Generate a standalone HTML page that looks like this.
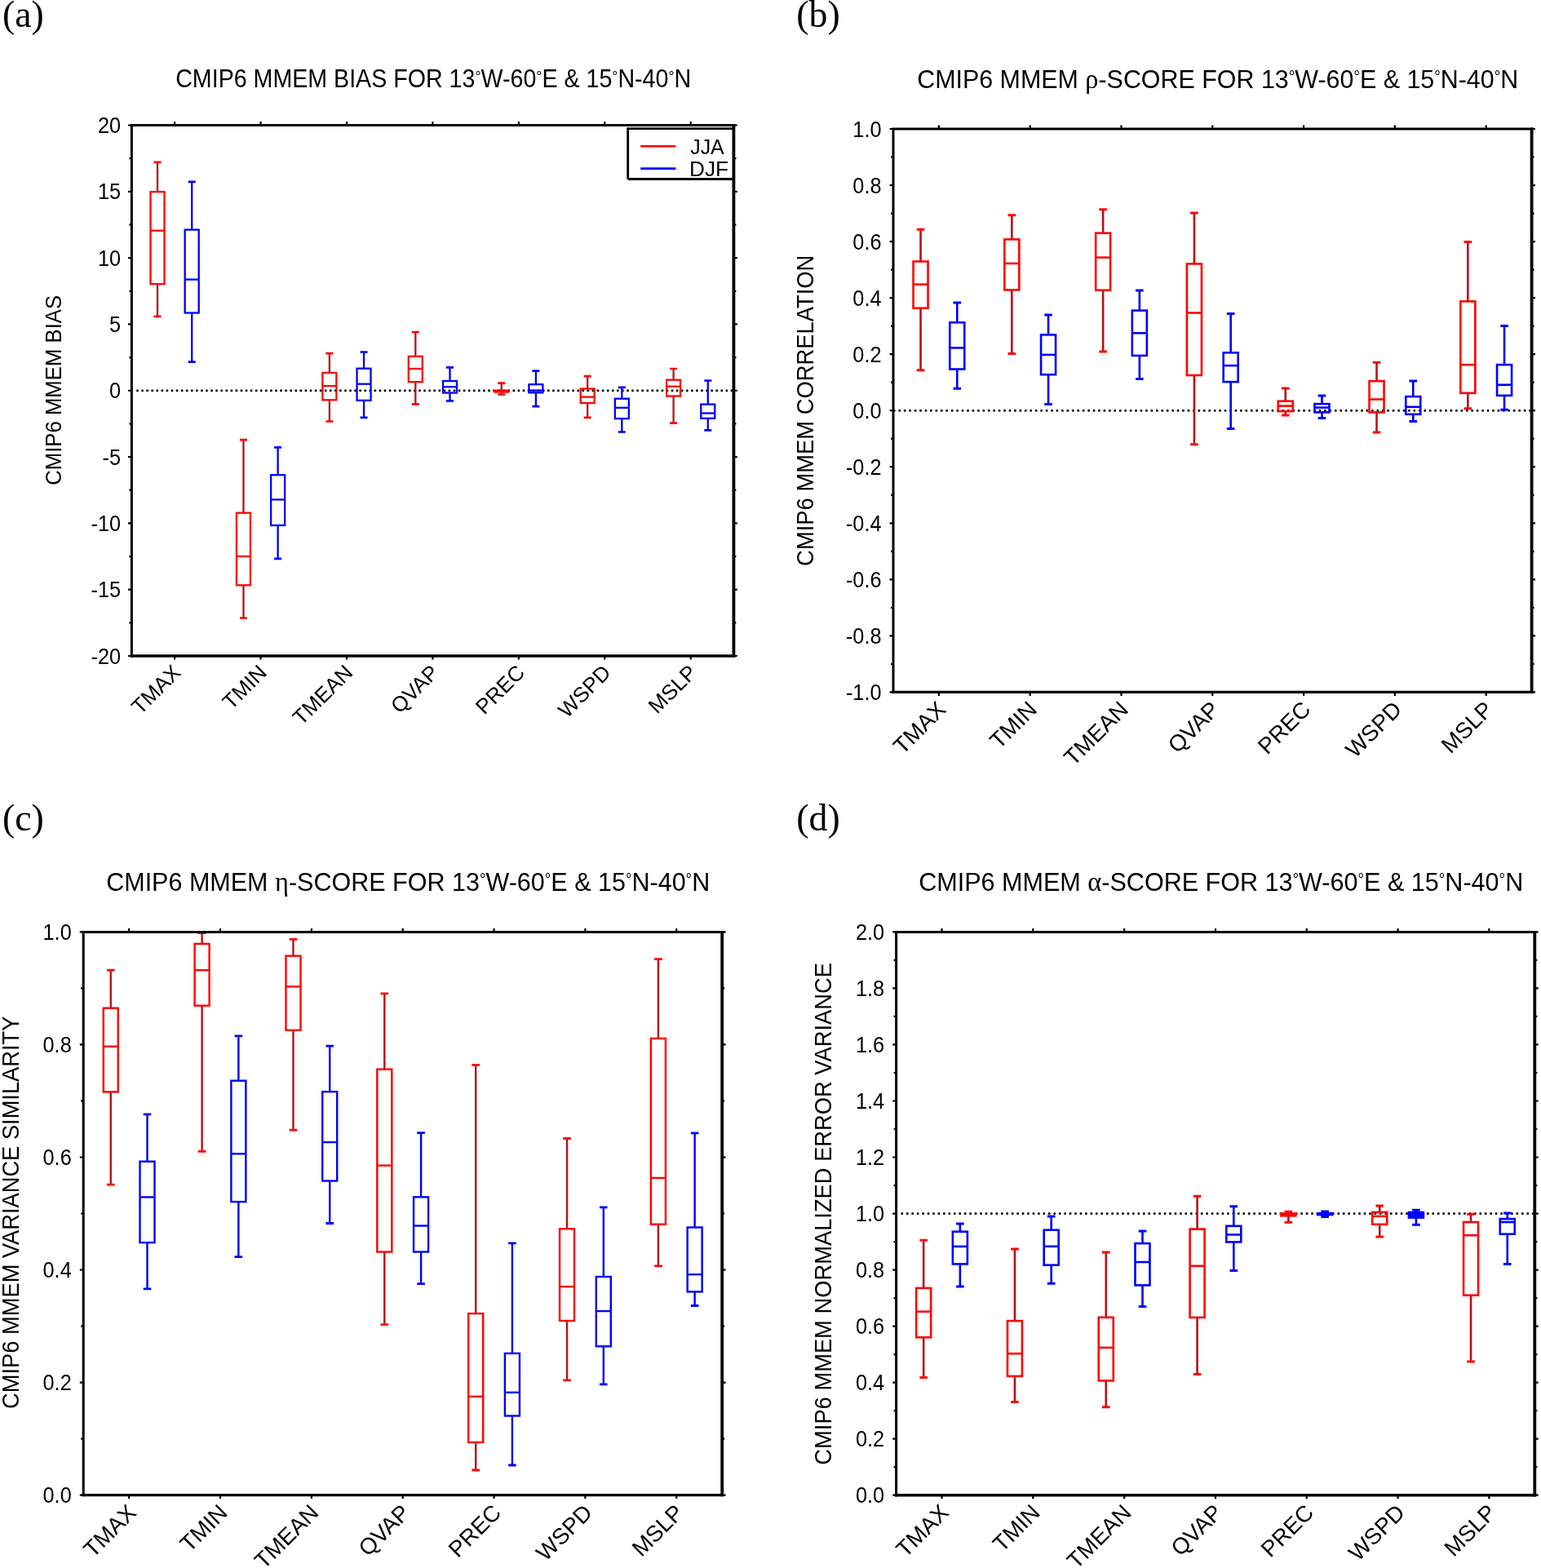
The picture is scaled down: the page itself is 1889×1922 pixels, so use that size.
<!DOCTYPE html>
<html><head><meta charset="utf-8"><title>CMIP6 MMEM scores</title>
<style>html,body{margin:0;padding:0;background:#fff;} svg{display:block;}</style></head>
<body><svg width="1889" height="1922" viewBox="0 0 1889 1922">
<rect width="1889" height="1922" fill="#fff"/>
<g id="panel-a"><line x1="168.5" y1="478.75" x2="899.4" y2="478.75" stroke="#000" stroke-width="3" stroke-linecap="round" stroke-dasharray="0 6.07"/>
<path d="M193.03 198.8V235.1M193.03 348.1V387.8" stroke="#b5121b" stroke-width="2.3" fill="none"/>
<path d="M188.53 198.8H197.53M188.53 387.8H197.53" stroke="#ff0000" stroke-width="2.7" fill="none"/>
<rect x="184.53" y="235.1" width="17" height="113" stroke="#ff0000" stroke-width="2.3" fill="none"/>
<path d="M184.53 282.7H201.53" stroke="#ff0000" stroke-width="2.3" fill="none"/>
<path d="M235.2 222.9V281.6M235.2 383.5V443.6" stroke="#0000f0" stroke-width="2.3" fill="none"/>
<path d="M230.7 222.9H239.7M230.7 443.6H239.7" stroke="#0000ff" stroke-width="2.7" fill="none"/>
<rect x="226.7" y="281.6" width="17" height="101.9" stroke="#0000ff" stroke-width="2.3" fill="none"/>
<path d="M226.7 342.6H243.7" stroke="#0000ff" stroke-width="2.3" fill="none"/>
<path d="M298.46 539.1V628.7M298.46 717.3V757.5" stroke="#b5121b" stroke-width="2.3" fill="none"/>
<path d="M293.96 539.1H302.96M293.96 757.5H302.96" stroke="#ff0000" stroke-width="2.7" fill="none"/>
<rect x="289.96" y="628.7" width="17" height="88.6" stroke="#ff0000" stroke-width="2.3" fill="none"/>
<path d="M289.96 682H306.96" stroke="#ff0000" stroke-width="2.3" fill="none"/>
<path d="M340.63 548.4V582.2M340.63 643.9V684.8" stroke="#0000f0" stroke-width="2.3" fill="none"/>
<path d="M336.13 548.4H345.13M336.13 684.8H345.13" stroke="#0000ff" stroke-width="2.7" fill="none"/>
<rect x="332.13" y="582.2" width="17" height="61.7" stroke="#0000ff" stroke-width="2.3" fill="none"/>
<path d="M332.13 612.4H349.13" stroke="#0000ff" stroke-width="2.3" fill="none"/>
<path d="M403.89 433.1V456.9M403.89 490.3V516.5" stroke="#b5121b" stroke-width="2.3" fill="none"/>
<path d="M399.39 433.1H408.39M399.39 516.5H408.39" stroke="#ff0000" stroke-width="2.7" fill="none"/>
<rect x="395.39" y="456.9" width="17" height="33.4" stroke="#ff0000" stroke-width="2.3" fill="none"/>
<path d="M395.39 473.1H412.39" stroke="#ff0000" stroke-width="2.3" fill="none"/>
<path d="M446.06 431.5V451.7M446.06 490.8V511.9" stroke="#0000f0" stroke-width="2.3" fill="none"/>
<path d="M441.56 431.5H450.56M441.56 511.9H450.56" stroke="#0000ff" stroke-width="2.7" fill="none"/>
<rect x="437.56" y="451.7" width="17" height="39.1" stroke="#0000ff" stroke-width="2.3" fill="none"/>
<path d="M437.56 470.7H454.56" stroke="#0000ff" stroke-width="2.3" fill="none"/>
<path d="M509.31 407V436.8M509.31 468.1V495.4" stroke="#b5121b" stroke-width="2.3" fill="none"/>
<path d="M504.81 407H513.81M504.81 495.4H513.81" stroke="#ff0000" stroke-width="2.7" fill="none"/>
<rect x="500.81" y="436.8" width="17" height="31.3" stroke="#ff0000" stroke-width="2.3" fill="none"/>
<path d="M500.81 452H517.81" stroke="#ff0000" stroke-width="2.3" fill="none"/>
<path d="M551.49 450.4V467M551.49 481.5V491.3" stroke="#0000f0" stroke-width="2.3" fill="none"/>
<path d="M546.99 450.4H555.99M546.99 491.3H555.99" stroke="#0000ff" stroke-width="2.7" fill="none"/>
<rect x="542.99" y="467" width="17" height="14.5" stroke="#0000ff" stroke-width="2.3" fill="none"/>
<path d="M542.99 474.2H559.99" stroke="#0000ff" stroke-width="2.3" fill="none"/>
<path d="M614.74 469.6V478.6M614.74 480.5V483.5" stroke="#b5121b" stroke-width="2.3" fill="none"/>
<path d="M610.24 469.6H619.24M610.24 483.5H619.24" stroke="#ff0000" stroke-width="2.7" fill="none"/>
<rect x="606.24" y="478.6" width="17" height="1.9" stroke="#ff0000" stroke-width="2.3" fill="none"/>
<path d="M606.24 479.5H623.24" stroke="#ff0000" stroke-width="2.3" fill="none"/>
<path d="M656.91 454.6V471.2M656.91 481.3V498.2" stroke="#0000f0" stroke-width="2.3" fill="none"/>
<path d="M652.41 454.6H661.41M652.41 498.2H661.41" stroke="#0000ff" stroke-width="2.7" fill="none"/>
<rect x="648.41" y="471.2" width="17" height="10.1" stroke="#0000ff" stroke-width="2.3" fill="none"/>
<path d="M648.41 478.6H665.41" stroke="#0000ff" stroke-width="2.3" fill="none"/>
<path d="M720.17 461.2V476.5M720.17 494V511.8" stroke="#b5121b" stroke-width="2.3" fill="none"/>
<path d="M715.67 461.2H724.67M715.67 511.8H724.67" stroke="#ff0000" stroke-width="2.7" fill="none"/>
<rect x="711.67" y="476.5" width="17" height="17.5" stroke="#ff0000" stroke-width="2.3" fill="none"/>
<path d="M711.67 486.6H728.67" stroke="#ff0000" stroke-width="2.3" fill="none"/>
<path d="M762.34 474.9V488.7M762.34 513.1V529.5" stroke="#0000f0" stroke-width="2.3" fill="none"/>
<path d="M757.84 474.9H766.84M757.84 529.5H766.84" stroke="#0000ff" stroke-width="2.7" fill="none"/>
<rect x="753.84" y="488.7" width="17" height="24.4" stroke="#0000ff" stroke-width="2.3" fill="none"/>
<path d="M753.84 499.8H770.84" stroke="#0000ff" stroke-width="2.3" fill="none"/>
<path d="M825.6 452V465.7M825.6 485.5V518.6" stroke="#b5121b" stroke-width="2.3" fill="none"/>
<path d="M821.1 452H830.1M821.1 518.6H830.1" stroke="#ff0000" stroke-width="2.7" fill="none"/>
<rect x="817.1" y="465.7" width="17" height="19.8" stroke="#ff0000" stroke-width="2.3" fill="none"/>
<path d="M817.1 473.7H834.1" stroke="#ff0000" stroke-width="2.3" fill="none"/>
<path d="M867.77 466.5V495.6M867.77 512.8V527.3" stroke="#0000f0" stroke-width="2.3" fill="none"/>
<path d="M863.27 466.5H872.27M863.27 527.3H872.27" stroke="#0000ff" stroke-width="2.7" fill="none"/>
<rect x="859.27" y="495.6" width="17" height="17.2" stroke="#0000ff" stroke-width="2.3" fill="none"/>
<path d="M859.27 506.5H876.27" stroke="#0000ff" stroke-width="2.3" fill="none"/>
<path d="M161.4 805.7V152M159.9 153.5H901.3" fill="none" stroke="#000" stroke-width="3"/>
<path d="M899.4 152V805.7" fill="none" stroke="#000" stroke-width="3.8"/>
<path d="M159.9 804H901.3" fill="none" stroke="#000" stroke-width="3.4"/>
<path d="M157 804H161.4M899.4 804H903.8M158.4 763.34H161.4M899.4 763.34H902.4M157 722.69H161.4M899.4 722.69H903.8M158.4 682.03H161.4M899.4 682.03H902.4M157 641.38H161.4M899.4 641.38H903.8M158.4 600.72H161.4M899.4 600.72H902.4M157 560.06H161.4M899.4 560.06H903.8M158.4 519.41H161.4M899.4 519.41H902.4M157 478.75H161.4M899.4 478.75H903.8M158.4 438.09H161.4M899.4 438.09H902.4M157 397.44H161.4M899.4 397.44H903.8M158.4 356.78H161.4M899.4 356.78H902.4M157 316.12H161.4M899.4 316.12H903.8M158.4 275.47H161.4M899.4 275.47H902.4M157 234.81H161.4M899.4 234.81H903.8M158.4 194.16H161.4M899.4 194.16H902.4M157 153.5H161.4M899.4 153.5H903.8M214.11 149V153.5M214.11 804V808.5M319.54 149V153.5M319.54 804V808.5M424.97 149V153.5M424.97 804V808.5M530.4 149V153.5M530.4 804V808.5M635.83 149V153.5M635.83 804V808.5M741.26 149V153.5M741.26 804V808.5M846.69 149V153.5M846.69 804V808.5" stroke="#000" stroke-width="2.2" fill="none"/>
<g font-family="'Liberation Sans', Arial, Helvetica, sans-serif" font-size="27.2" fill="#000"><text transform="translate(148.1 813.6) scale(0.93 1)" text-anchor="end">-20</text><text transform="translate(148.1 732.29) scale(0.93 1)" text-anchor="end">-15</text><text transform="translate(148.1 650.98) scale(0.93 1)" text-anchor="end">-10</text><text transform="translate(148.1 569.66) scale(0.93 1)" text-anchor="end">-5</text><text transform="translate(148.1 488.35) scale(0.93 1)" text-anchor="end">0</text><text transform="translate(148.1 407.04) scale(0.93 1)" text-anchor="end">5</text><text transform="translate(148.1 325.73) scale(0.93 1)" text-anchor="end">10</text><text transform="translate(148.1 244.41) scale(0.93 1)" text-anchor="end">15</text><text transform="translate(148.1 163.1) scale(0.93 1)" text-anchor="end">20</text></g>
<g font-family="'Liberation Sans', Arial, Helvetica, sans-serif" font-size="26" fill="#000"><text transform="translate(223.11 826) rotate(-45)" text-anchor="end">TMAX</text><text transform="translate(328.54 826) rotate(-45)" text-anchor="end">TMIN</text><text transform="translate(433.97 826) rotate(-45)" text-anchor="end">TMEAN</text><text transform="translate(539.4 826) rotate(-45)" text-anchor="end">QVAP</text><text transform="translate(644.83 826) rotate(-45)" text-anchor="end">PREC</text><text transform="translate(750.26 826) rotate(-45)" text-anchor="end">WSPD</text><text transform="translate(855.69 826) rotate(-45)" text-anchor="end">MSLP</text></g></g>
<g id="panel-b"><line x1="1096.3" y1="503.2" x2="1877.6" y2="503.2" stroke="#000" stroke-width="3" stroke-linecap="round" stroke-dasharray="0 6.44"/>
<path d="M1128.54 281.2V320.5M1128.54 377.7V453.7" stroke="#b5121b" stroke-width="2.6" fill="none"/>
<path d="M1123.74 281.2H1133.34M1123.74 453.7H1133.34" stroke="#ff0000" stroke-width="3" fill="none"/>
<rect x="1119.54" y="320.5" width="18" height="57.2" stroke="#ff0000" stroke-width="2.6" fill="none"/>
<path d="M1119.54 348.6H1137.54" stroke="#ff0000" stroke-width="2.6" fill="none"/>
<path d="M1173.26 370.9V395.3M1173.26 452.5V476.2" stroke="#0000f0" stroke-width="2.6" fill="none"/>
<path d="M1168.46 370.9H1178.06M1168.46 476.2H1178.06" stroke="#0000ff" stroke-width="3" fill="none"/>
<rect x="1164.26" y="395.3" width="18" height="57.2" stroke="#0000ff" stroke-width="2.6" fill="none"/>
<path d="M1164.26 426.4H1182.26" stroke="#0000ff" stroke-width="2.6" fill="none"/>
<path d="M1240.34 263.8V293.4M1240.34 355.4V433.5" stroke="#b5121b" stroke-width="2.6" fill="none"/>
<path d="M1235.54 263.8H1245.14M1235.54 433.5H1245.14" stroke="#ff0000" stroke-width="3" fill="none"/>
<rect x="1231.34" y="293.4" width="18" height="62" stroke="#ff0000" stroke-width="2.6" fill="none"/>
<path d="M1231.34 322.9H1249.34" stroke="#ff0000" stroke-width="2.6" fill="none"/>
<path d="M1285.06 386.1V410.4M1285.06 459.2V495.4" stroke="#0000f0" stroke-width="2.6" fill="none"/>
<path d="M1280.26 386.1H1289.86M1280.26 495.4H1289.86" stroke="#0000ff" stroke-width="3" fill="none"/>
<rect x="1276.06" y="410.4" width="18" height="48.8" stroke="#0000ff" stroke-width="2.6" fill="none"/>
<path d="M1276.06 434.9H1294.06" stroke="#0000ff" stroke-width="2.6" fill="none"/>
<path d="M1352.14 256.7V285.7M1352.14 355.7V431.1" stroke="#b5121b" stroke-width="2.6" fill="none"/>
<path d="M1347.34 256.7H1356.94M1347.34 431.1H1356.94" stroke="#ff0000" stroke-width="3" fill="none"/>
<rect x="1343.14" y="285.7" width="18" height="70" stroke="#ff0000" stroke-width="2.6" fill="none"/>
<path d="M1343.14 315.6H1361.14" stroke="#ff0000" stroke-width="2.6" fill="none"/>
<path d="M1396.86 356V380.6M1396.86 435.9V464.6" stroke="#0000f0" stroke-width="2.6" fill="none"/>
<path d="M1392.06 356H1401.66M1392.06 464.6H1401.66" stroke="#0000ff" stroke-width="3" fill="none"/>
<rect x="1387.86" y="380.6" width="18" height="55.3" stroke="#0000ff" stroke-width="2.6" fill="none"/>
<path d="M1387.86 408.3H1405.86" stroke="#0000ff" stroke-width="2.6" fill="none"/>
<path d="M1463.94 261V323.4M1463.94 460V544.8" stroke="#b5121b" stroke-width="2.6" fill="none"/>
<path d="M1459.14 261H1468.74M1459.14 544.8H1468.74" stroke="#ff0000" stroke-width="3" fill="none"/>
<rect x="1454.94" y="323.4" width="18" height="136.6" stroke="#ff0000" stroke-width="2.6" fill="none"/>
<path d="M1454.94 383.5H1472.94" stroke="#ff0000" stroke-width="2.6" fill="none"/>
<path d="M1508.66 384.4V432.3M1508.66 468.1V525.5" stroke="#0000f0" stroke-width="2.6" fill="none"/>
<path d="M1503.86 384.4H1513.46M1503.86 525.5H1513.46" stroke="#0000ff" stroke-width="3" fill="none"/>
<rect x="1499.66" y="432.3" width="18" height="35.8" stroke="#0000ff" stroke-width="2.6" fill="none"/>
<path d="M1499.66 448.1H1517.66" stroke="#0000ff" stroke-width="2.6" fill="none"/>
<path d="M1575.74 476.1V491.7M1575.74 504.1V508.9" stroke="#b5121b" stroke-width="2.6" fill="none"/>
<path d="M1570.94 476.1H1580.54M1570.94 508.9H1580.54" stroke="#ff0000" stroke-width="3" fill="none"/>
<rect x="1566.74" y="491.7" width="18" height="12.4" stroke="#ff0000" stroke-width="2.6" fill="none"/>
<path d="M1566.74 497.6H1584.74" stroke="#ff0000" stroke-width="2.6" fill="none"/>
<path d="M1620.46 485.1V495.1M1620.46 505.4V512.4" stroke="#0000f0" stroke-width="2.6" fill="none"/>
<path d="M1615.66 485.1H1625.26M1615.66 512.4H1625.26" stroke="#0000ff" stroke-width="3" fill="none"/>
<rect x="1611.46" y="495.1" width="18" height="10.3" stroke="#0000ff" stroke-width="2.6" fill="none"/>
<path d="M1611.46 499.6H1629.46" stroke="#0000ff" stroke-width="2.6" fill="none"/>
<path d="M1687.54 444.3V467.1M1687.54 505.4V530.1" stroke="#b5121b" stroke-width="2.6" fill="none"/>
<path d="M1682.74 444.3H1692.34M1682.74 530.1H1692.34" stroke="#ff0000" stroke-width="3" fill="none"/>
<rect x="1678.54" y="467.1" width="18" height="38.3" stroke="#ff0000" stroke-width="2.6" fill="none"/>
<path d="M1678.54 489.5H1696.54" stroke="#ff0000" stroke-width="2.6" fill="none"/>
<path d="M1732.26 467.1V486.1M1732.26 507.8V516.6" stroke="#0000f0" stroke-width="2.6" fill="none"/>
<path d="M1727.46 467.1H1737.06M1727.46 516.6H1737.06" stroke="#0000ff" stroke-width="3" fill="none"/>
<rect x="1723.26" y="486.1" width="18" height="21.7" stroke="#0000ff" stroke-width="2.6" fill="none"/>
<path d="M1723.26 498.8H1741.26" stroke="#0000ff" stroke-width="2.6" fill="none"/>
<path d="M1799.34 296.4V369.4M1799.34 481.8V500.8" stroke="#b5121b" stroke-width="2.6" fill="none"/>
<path d="M1794.54 296.4H1804.14M1794.54 500.8H1804.14" stroke="#ff0000" stroke-width="3" fill="none"/>
<rect x="1790.34" y="369.4" width="18" height="112.4" stroke="#ff0000" stroke-width="2.6" fill="none"/>
<path d="M1790.34 447.1H1808.34" stroke="#ff0000" stroke-width="2.6" fill="none"/>
<path d="M1844.06 399.6V447.1M1844.06 484.8V502.2" stroke="#0000f0" stroke-width="2.6" fill="none"/>
<path d="M1839.26 399.6H1848.86M1839.26 502.2H1848.86" stroke="#0000ff" stroke-width="3" fill="none"/>
<rect x="1835.06" y="447.1" width="18" height="37.7" stroke="#0000ff" stroke-width="2.6" fill="none"/>
<path d="M1835.06 471.7H1853.06" stroke="#0000ff" stroke-width="2.6" fill="none"/>
<path d="M1095 850.1V156.5M1093.5 158H1879.5" fill="none" stroke="#000" stroke-width="3"/>
<path d="M1877.6 156.5V850.1" fill="none" stroke="#000" stroke-width="3.8"/>
<path d="M1093.5 848.4H1879.5" fill="none" stroke="#000" stroke-width="3.4"/>
<path d="M1090.6 848.4H1095M1877.6 848.4H1882M1092 813.88H1095M1877.6 813.88H1880.6M1090.6 779.36H1095M1877.6 779.36H1882M1092 744.84H1095M1877.6 744.84H1880.6M1090.6 710.32H1095M1877.6 710.32H1882M1092 675.8H1095M1877.6 675.8H1880.6M1090.6 641.28H1095M1877.6 641.28H1882M1092 606.76H1095M1877.6 606.76H1880.6M1090.6 572.24H1095M1877.6 572.24H1882M1092 537.72H1095M1877.6 537.72H1880.6M1090.6 503.2H1095M1877.6 503.2H1882M1092 468.68H1095M1877.6 468.68H1880.6M1090.6 434.16H1095M1877.6 434.16H1882M1092 399.64H1095M1877.6 399.64H1880.6M1090.6 365.12H1095M1877.6 365.12H1882M1092 330.6H1095M1877.6 330.6H1880.6M1090.6 296.08H1095M1877.6 296.08H1882M1092 261.56H1095M1877.6 261.56H1880.6M1090.6 227.04H1095M1877.6 227.04H1882M1092 192.52H1095M1877.6 192.52H1880.6M1090.6 158H1095M1877.6 158H1882M1150.9 153.5V158M1150.9 848.4V852.9M1262.7 153.5V158M1262.7 848.4V852.9M1374.5 153.5V158M1374.5 848.4V852.9M1486.3 153.5V158M1486.3 848.4V852.9M1598.1 153.5V158M1598.1 848.4V852.9M1709.9 153.5V158M1709.9 848.4V852.9M1821.7 153.5V158M1821.7 848.4V852.9" stroke="#000" stroke-width="2.2" fill="none"/>
<g font-family="'Liberation Sans', Arial, Helvetica, sans-serif" font-size="27.2" fill="#000"><text transform="translate(1080.5 858) scale(0.93 1)" text-anchor="end">-1.0</text><text transform="translate(1080.5 788.96) scale(0.93 1)" text-anchor="end">-0.8</text><text transform="translate(1080.5 719.92) scale(0.93 1)" text-anchor="end">-0.6</text><text transform="translate(1080.5 650.88) scale(0.93 1)" text-anchor="end">-0.4</text><text transform="translate(1080.5 581.84) scale(0.93 1)" text-anchor="end">-0.2</text><text transform="translate(1080.5 512.8) scale(0.93 1)" text-anchor="end">0.0</text><text transform="translate(1080.5 443.76) scale(0.93 1)" text-anchor="end">0.2</text><text transform="translate(1080.5 374.72) scale(0.93 1)" text-anchor="end">0.4</text><text transform="translate(1080.5 305.68) scale(0.93 1)" text-anchor="end">0.6</text><text transform="translate(1080.5 236.64) scale(0.93 1)" text-anchor="end">0.8</text><text transform="translate(1080.5 167.6) scale(0.93 1)" text-anchor="end">1.0</text></g>
<g font-family="'Liberation Sans', Arial, Helvetica, sans-serif" font-size="27.8" fill="#000"><text transform="translate(1161 871.3) rotate(-45)" text-anchor="end">TMAX</text><text transform="translate(1272.8 871.3) rotate(-45)" text-anchor="end">TMIN</text><text transform="translate(1384.6 871.3) rotate(-45)" text-anchor="end">TMEAN</text><text transform="translate(1496.4 871.3) rotate(-45)" text-anchor="end">QVAP</text><text transform="translate(1608.2 871.3) rotate(-45)" text-anchor="end">PREC</text><text transform="translate(1720 871.3) rotate(-45)" text-anchor="end">WSPD</text><text transform="translate(1831.8 871.3) rotate(-45)" text-anchor="end">MSLP</text></g></g>
<g id="panel-c"><path d="M135.76 1189.2V1235.7M135.76 1338.4V1452.1" stroke="#b5121b" stroke-width="2.4" fill="none"/>
<path d="M130.96 1189.2H140.56M130.96 1452.1H140.56" stroke="#ff0000" stroke-width="2.8" fill="none"/>
<rect x="126.76" y="1235.7" width="18" height="102.7" stroke="#ff0000" stroke-width="2.4" fill="none"/>
<path d="M126.76 1282.7H144.76" stroke="#ff0000" stroke-width="2.4" fill="none"/>
<path d="M180.5 1365.8V1423.7M180.5 1523.1V1579.9" stroke="#0000f0" stroke-width="2.4" fill="none"/>
<path d="M175.7 1365.8H185.3M175.7 1579.9H185.3" stroke="#0000ff" stroke-width="2.8" fill="none"/>
<rect x="171.5" y="1423.7" width="18" height="99.4" stroke="#0000ff" stroke-width="2.4" fill="none"/>
<path d="M171.5 1467.4H189.5" stroke="#0000ff" stroke-width="2.4" fill="none"/>
<path d="M247.61 1143.7V1156.9M247.61 1232.7V1411.4" stroke="#b5121b" stroke-width="2.4" fill="none"/>
<path d="M242.81 1143.7H252.41M242.81 1411.4H252.41" stroke="#ff0000" stroke-width="2.8" fill="none"/>
<rect x="238.61" y="1156.9" width="18" height="75.8" stroke="#ff0000" stroke-width="2.4" fill="none"/>
<path d="M238.61 1189.2H256.61" stroke="#ff0000" stroke-width="2.4" fill="none"/>
<path d="M292.36 1269.8V1324.7M292.36 1473.1V1540.6" stroke="#0000f0" stroke-width="2.4" fill="none"/>
<path d="M287.56 1269.8H297.16M287.56 1540.6H297.16" stroke="#0000ff" stroke-width="2.8" fill="none"/>
<rect x="283.36" y="1324.7" width="18" height="148.4" stroke="#0000ff" stroke-width="2.4" fill="none"/>
<path d="M283.36 1414.3H301.36" stroke="#0000ff" stroke-width="2.4" fill="none"/>
<path d="M359.47 1151.4V1171.7M359.47 1262.8V1385.2" stroke="#b5121b" stroke-width="2.4" fill="none"/>
<path d="M354.67 1151.4H364.27M354.67 1385.2H364.27" stroke="#ff0000" stroke-width="2.8" fill="none"/>
<rect x="350.47" y="1171.7" width="18" height="91.1" stroke="#ff0000" stroke-width="2.4" fill="none"/>
<path d="M350.47 1209.3H368.47" stroke="#ff0000" stroke-width="2.4" fill="none"/>
<path d="M404.21 1282.1V1338.2M404.21 1447.5V1499.5" stroke="#0000f0" stroke-width="2.4" fill="none"/>
<path d="M399.41 1282.1H409.01M399.41 1499.5H409.01" stroke="#0000ff" stroke-width="2.8" fill="none"/>
<rect x="395.21" y="1338.2" width="18" height="109.3" stroke="#0000ff" stroke-width="2.4" fill="none"/>
<path d="M395.21 1400.1H413.21" stroke="#0000ff" stroke-width="2.4" fill="none"/>
<path d="M471.33 1217.9V1310.7M471.33 1534.5V1623.6" stroke="#b5121b" stroke-width="2.4" fill="none"/>
<path d="M466.53 1217.9H476.13M466.53 1623.6H476.13" stroke="#ff0000" stroke-width="2.8" fill="none"/>
<rect x="462.33" y="1310.7" width="18" height="223.8" stroke="#ff0000" stroke-width="2.4" fill="none"/>
<path d="M462.33 1428.6H480.33" stroke="#ff0000" stroke-width="2.4" fill="none"/>
<path d="M516.07 1388.6V1467.3M516.07 1534.5V1573.6" stroke="#0000f0" stroke-width="2.4" fill="none"/>
<path d="M511.27 1388.6H520.87M511.27 1573.6H520.87" stroke="#0000ff" stroke-width="2.8" fill="none"/>
<rect x="507.07" y="1467.3" width="18" height="67.2" stroke="#0000ff" stroke-width="2.4" fill="none"/>
<path d="M507.07 1502.5H525.07" stroke="#0000ff" stroke-width="2.4" fill="none"/>
<path d="M583.19 1305.3V1610.1M583.19 1768V1802" stroke="#b5121b" stroke-width="2.4" fill="none"/>
<path d="M578.39 1305.3H587.99M578.39 1802H587.99" stroke="#ff0000" stroke-width="2.8" fill="none"/>
<rect x="574.19" y="1610.1" width="18" height="157.9" stroke="#ff0000" stroke-width="2.4" fill="none"/>
<path d="M574.19 1711.8H592.19" stroke="#ff0000" stroke-width="2.4" fill="none"/>
<path d="M627.93 1523.9V1658.9M627.93 1735.5V1796" stroke="#0000f0" stroke-width="2.4" fill="none"/>
<path d="M623.13 1523.9H632.73M623.13 1796H632.73" stroke="#0000ff" stroke-width="2.8" fill="none"/>
<rect x="618.93" y="1658.9" width="18" height="76.6" stroke="#0000ff" stroke-width="2.4" fill="none"/>
<path d="M618.93 1706.8H636.93" stroke="#0000ff" stroke-width="2.4" fill="none"/>
<path d="M695.04 1395.5V1506.3M695.04 1619V1691.8" stroke="#b5121b" stroke-width="2.4" fill="none"/>
<path d="M690.24 1395.5H699.84M690.24 1691.8H699.84" stroke="#ff0000" stroke-width="2.8" fill="none"/>
<rect x="686.04" y="1506.3" width="18" height="112.7" stroke="#ff0000" stroke-width="2.4" fill="none"/>
<path d="M686.04 1577.1H704.04" stroke="#ff0000" stroke-width="2.4" fill="none"/>
<path d="M739.79 1479.8V1565M739.79 1650.3V1696.8" stroke="#0000f0" stroke-width="2.4" fill="none"/>
<path d="M734.99 1479.8H744.59M734.99 1696.8H744.59" stroke="#0000ff" stroke-width="2.8" fill="none"/>
<rect x="730.79" y="1565" width="18" height="85.3" stroke="#0000ff" stroke-width="2.4" fill="none"/>
<path d="M730.79 1607.1H748.79" stroke="#0000ff" stroke-width="2.4" fill="none"/>
<path d="M806.9 1175.6V1272.9M806.9 1500.7V1551.9" stroke="#b5121b" stroke-width="2.4" fill="none"/>
<path d="M802.1 1175.6H811.7M802.1 1551.9H811.7" stroke="#ff0000" stroke-width="2.8" fill="none"/>
<rect x="797.9" y="1272.9" width="18" height="227.8" stroke="#ff0000" stroke-width="2.4" fill="none"/>
<path d="M797.9 1443.9H815.9" stroke="#ff0000" stroke-width="2.4" fill="none"/>
<path d="M851.64 1388.9V1504.5M851.64 1583.4V1600.5" stroke="#0000f0" stroke-width="2.4" fill="none"/>
<path d="M846.84 1388.9H856.44M846.84 1600.5H856.44" stroke="#0000ff" stroke-width="2.8" fill="none"/>
<rect x="842.64" y="1504.5" width="18" height="78.9" stroke="#0000ff" stroke-width="2.4" fill="none"/>
<path d="M842.64 1562.2H860.64" stroke="#0000ff" stroke-width="2.4" fill="none"/>
<path d="M102.2 1834.3V1140.9M100.7 1142.4H887.1" fill="none" stroke="#000" stroke-width="3"/>
<path d="M885.2 1140.9V1834.3" fill="none" stroke="#000" stroke-width="3.8"/>
<path d="M100.7 1832.6H887.1" fill="none" stroke="#000" stroke-width="3.4"/>
<path d="M97.8 1832.6H102.2M885.2 1832.6H889.6M99.2 1763.58H102.2M885.2 1763.58H888.2M97.8 1694.56H102.2M885.2 1694.56H889.6M99.2 1625.54H102.2M885.2 1625.54H888.2M97.8 1556.52H102.2M885.2 1556.52H889.6M99.2 1487.5H102.2M885.2 1487.5H888.2M97.8 1418.48H102.2M885.2 1418.48H889.6M99.2 1349.46H102.2M885.2 1349.46H888.2M97.8 1280.44H102.2M885.2 1280.44H889.6M99.2 1211.42H102.2M885.2 1211.42H888.2M97.8 1142.4H102.2M885.2 1142.4H889.6M158.13 1137.9V1142.4M158.13 1832.6V1837.1M269.99 1137.9V1142.4M269.99 1832.6V1837.1M381.84 1137.9V1142.4M381.84 1832.6V1837.1M493.7 1137.9V1142.4M493.7 1832.6V1837.1M605.56 1137.9V1142.4M605.56 1832.6V1837.1M717.41 1137.9V1142.4M717.41 1832.6V1837.1M829.27 1137.9V1142.4M829.27 1832.6V1837.1" stroke="#000" stroke-width="2.2" fill="none"/>
<g font-family="'Liberation Sans', Arial, Helvetica, sans-serif" font-size="27.2" fill="#000"><text transform="translate(87.7 1842.2) scale(0.93 1)" text-anchor="end">0.0</text><text transform="translate(87.7 1704.16) scale(0.93 1)" text-anchor="end">0.2</text><text transform="translate(87.7 1566.12) scale(0.93 1)" text-anchor="end">0.4</text><text transform="translate(87.7 1428.08) scale(0.93 1)" text-anchor="end">0.6</text><text transform="translate(87.7 1290.04) scale(0.93 1)" text-anchor="end">0.8</text><text transform="translate(87.7 1152) scale(0.93 1)" text-anchor="end">1.0</text></g>
<g font-family="'Liberation Sans', Arial, Helvetica, sans-serif" font-size="27.8" fill="#000"><text transform="translate(168.53 1855.8) rotate(-45)" text-anchor="end">TMAX</text><text transform="translate(280.39 1855.8) rotate(-45)" text-anchor="end">TMIN</text><text transform="translate(392.24 1855.8) rotate(-45)" text-anchor="end">TMEAN</text><text transform="translate(504.1 1855.8) rotate(-45)" text-anchor="end">QVAP</text><text transform="translate(615.96 1855.8) rotate(-45)" text-anchor="end">PREC</text><text transform="translate(727.81 1855.8) rotate(-45)" text-anchor="end">WSPD</text><text transform="translate(839.67 1855.8) rotate(-45)" text-anchor="end">MSLP</text></g></g>
<g id="panel-d"><line x1="1105.8" y1="1487.55" x2="1881.3" y2="1487.55" stroke="#000" stroke-width="3" stroke-linecap="round" stroke-dasharray="0 6.445"/>
<path d="M1132.14 1520.3V1578.9M1132.14 1639.3V1688.6" stroke="#b5121b" stroke-width="2.6" fill="none"/>
<path d="M1127.34 1520.3H1136.94M1127.34 1688.6H1136.94" stroke="#ff0000" stroke-width="3" fill="none"/>
<rect x="1123.14" y="1578.9" width="18" height="60.4" stroke="#ff0000" stroke-width="2.6" fill="none"/>
<path d="M1123.14 1607.7H1141.14" stroke="#ff0000" stroke-width="2.6" fill="none"/>
<path d="M1176.87 1499.9V1509.7M1176.87 1549.4V1577.1" stroke="#0000f0" stroke-width="2.6" fill="none"/>
<path d="M1172.07 1499.9H1181.67M1172.07 1577.1H1181.67" stroke="#0000ff" stroke-width="3" fill="none"/>
<rect x="1167.87" y="1509.7" width="18" height="39.7" stroke="#0000ff" stroke-width="2.6" fill="none"/>
<path d="M1167.87 1527.9H1185.87" stroke="#0000ff" stroke-width="2.6" fill="none"/>
<path d="M1243.96 1531V1619.1M1243.96 1686.9V1718.6" stroke="#b5121b" stroke-width="2.6" fill="none"/>
<path d="M1239.16 1531H1248.76M1239.16 1718.6H1248.76" stroke="#ff0000" stroke-width="3" fill="none"/>
<rect x="1234.96" y="1619.1" width="18" height="67.8" stroke="#ff0000" stroke-width="2.6" fill="none"/>
<path d="M1234.96 1659.2H1252.96" stroke="#ff0000" stroke-width="2.6" fill="none"/>
<path d="M1288.68 1490.9V1507.7M1288.68 1550.7V1573.2" stroke="#0000f0" stroke-width="2.6" fill="none"/>
<path d="M1283.88 1490.9H1293.48M1283.88 1573.2H1293.48" stroke="#0000ff" stroke-width="3" fill="none"/>
<rect x="1279.68" y="1507.7" width="18" height="43" stroke="#0000ff" stroke-width="2.6" fill="none"/>
<path d="M1279.68 1527.8H1297.68" stroke="#0000ff" stroke-width="2.6" fill="none"/>
<path d="M1355.77 1535.1V1614.8M1355.77 1692.4V1724.8" stroke="#b5121b" stroke-width="2.6" fill="none"/>
<path d="M1350.97 1535.1H1360.57M1350.97 1724.8H1360.57" stroke="#ff0000" stroke-width="3" fill="none"/>
<rect x="1346.77" y="1614.8" width="18" height="77.6" stroke="#ff0000" stroke-width="2.6" fill="none"/>
<path d="M1346.77 1651.9H1364.77" stroke="#ff0000" stroke-width="2.6" fill="none"/>
<path d="M1400.5 1509.1V1524.1M1400.5 1575.4V1601.4" stroke="#0000f0" stroke-width="2.6" fill="none"/>
<path d="M1395.7 1509.1H1405.3M1395.7 1601.4H1405.3" stroke="#0000ff" stroke-width="3" fill="none"/>
<rect x="1391.5" y="1524.1" width="18" height="51.3" stroke="#0000ff" stroke-width="2.6" fill="none"/>
<path d="M1391.5 1547H1409.5" stroke="#0000ff" stroke-width="2.6" fill="none"/>
<path d="M1467.59 1466.3V1506.6M1467.59 1614.9V1684.6" stroke="#b5121b" stroke-width="2.6" fill="none"/>
<path d="M1462.79 1466.3H1472.39M1462.79 1684.6H1472.39" stroke="#ff0000" stroke-width="3" fill="none"/>
<rect x="1458.59" y="1506.6" width="18" height="108.3" stroke="#ff0000" stroke-width="2.6" fill="none"/>
<path d="M1458.59 1551.8H1476.59" stroke="#ff0000" stroke-width="2.6" fill="none"/>
<path d="M1512.31 1478.7V1502.8M1512.31 1522.4V1557.4" stroke="#0000f0" stroke-width="2.6" fill="none"/>
<path d="M1507.51 1478.7H1517.11M1507.51 1557.4H1517.11" stroke="#0000ff" stroke-width="3" fill="none"/>
<rect x="1503.31" y="1502.8" width="18" height="19.6" stroke="#0000ff" stroke-width="2.6" fill="none"/>
<path d="M1503.31 1513.4H1521.31" stroke="#0000ff" stroke-width="2.6" fill="none"/>
<path d="M1579.4 1485.3V1487.4M1579.4 1490.3V1498.3" stroke="#b5121b" stroke-width="2.6" fill="none"/>
<path d="M1574.6 1485.3H1584.2M1574.6 1498.3H1584.2" stroke="#ff0000" stroke-width="3" fill="none"/>
<rect x="1570.4" y="1487.4" width="18" height="2.9" stroke="#ff0000" stroke-width="2.6" fill="none"/>
<path d="M1570.4 1489H1588.4" stroke="#ff0000" stroke-width="2.6" fill="none"/>
<path d="M1624.13 1484.9V1487.2M1624.13 1489V1491.6" stroke="#0000f0" stroke-width="2.6" fill="none"/>
<path d="M1619.33 1484.9H1628.93M1619.33 1491.6H1628.93" stroke="#0000ff" stroke-width="3" fill="none"/>
<rect x="1615.13" y="1487.2" width="18" height="1.8" stroke="#0000ff" stroke-width="2.6" fill="none"/>
<path d="M1615.13 1488.1H1633.13" stroke="#0000ff" stroke-width="2.6" fill="none"/>
<path d="M1691.22 1478V1485.9M1691.22 1500.8V1516.1" stroke="#b5121b" stroke-width="2.6" fill="none"/>
<path d="M1686.42 1478H1696.02M1686.42 1516.1H1696.02" stroke="#ff0000" stroke-width="3" fill="none"/>
<rect x="1682.22" y="1485.9" width="18" height="14.9" stroke="#ff0000" stroke-width="2.6" fill="none"/>
<path d="M1682.22 1490.9H1700.22" stroke="#ff0000" stroke-width="2.6" fill="none"/>
<path d="M1735.94 1483.2V1486M1735.94 1492.6V1501.2" stroke="#0000f0" stroke-width="2.6" fill="none"/>
<path d="M1731.14 1483.2H1740.74M1731.14 1501.2H1740.74" stroke="#0000ff" stroke-width="3" fill="none"/>
<rect x="1726.94" y="1486" width="18" height="6.6" stroke="#0000ff" stroke-width="2.6" fill="#0000ff"/>
<path d="M1726.94 1489.5H1744.94" stroke="#0000ff" stroke-width="2.6" fill="none"/>
<path d="M1803.03 1488.2V1498M1803.03 1587.7V1669" stroke="#b5121b" stroke-width="2.6" fill="none"/>
<path d="M1798.23 1488.2H1807.83M1798.23 1669H1807.83" stroke="#ff0000" stroke-width="3" fill="none"/>
<rect x="1794.03" y="1498" width="18" height="89.7" stroke="#ff0000" stroke-width="2.6" fill="none"/>
<path d="M1794.03 1514.2H1812.03" stroke="#ff0000" stroke-width="2.6" fill="none"/>
<path d="M1847.76 1486.9V1494.1M1847.76 1512.7V1549.6" stroke="#0000f0" stroke-width="2.6" fill="none"/>
<path d="M1842.96 1486.9H1852.56M1842.96 1549.6H1852.56" stroke="#0000ff" stroke-width="3" fill="none"/>
<rect x="1838.76" y="1494.1" width="18" height="18.6" stroke="#0000ff" stroke-width="2.6" fill="none"/>
<path d="M1838.76 1498H1856.76" stroke="#0000ff" stroke-width="2.6" fill="none"/>
<path d="M1098.6 1834.4V1140.9M1097.1 1142.4H1883.2" fill="none" stroke="#000" stroke-width="3"/>
<path d="M1881.3 1140.9V1834.4" fill="none" stroke="#000" stroke-width="3.8"/>
<path d="M1097.1 1832.7H1883.2" fill="none" stroke="#000" stroke-width="3.4"/>
<path d="M1094.2 1832.7H1098.6M1881.3 1832.7H1885.7M1095.6 1798.18H1098.6M1881.3 1798.18H1884.3M1094.2 1763.67H1098.6M1881.3 1763.67H1885.7M1095.6 1729.15H1098.6M1881.3 1729.15H1884.3M1094.2 1694.64H1098.6M1881.3 1694.64H1885.7M1095.6 1660.12H1098.6M1881.3 1660.12H1884.3M1094.2 1625.61H1098.6M1881.3 1625.61H1885.7M1095.6 1591.1H1098.6M1881.3 1591.1H1884.3M1094.2 1556.58H1098.6M1881.3 1556.58H1885.7M1095.6 1522.07H1098.6M1881.3 1522.07H1884.3M1094.2 1487.55H1098.6M1881.3 1487.55H1885.7M1095.6 1453.04H1098.6M1881.3 1453.04H1884.3M1094.2 1418.52H1098.6M1881.3 1418.52H1885.7M1095.6 1384.01H1098.6M1881.3 1384.01H1884.3M1094.2 1349.49H1098.6M1881.3 1349.49H1885.7M1095.6 1314.98H1098.6M1881.3 1314.98H1884.3M1094.2 1280.46H1098.6M1881.3 1280.46H1885.7M1095.6 1245.95H1098.6M1881.3 1245.95H1884.3M1094.2 1211.43H1098.6M1881.3 1211.43H1885.7M1095.6 1176.91H1098.6M1881.3 1176.91H1884.3M1094.2 1142.4H1098.6M1881.3 1142.4H1885.7M1154.51 1137.9V1142.4M1154.51 1832.7V1837.2M1266.32 1137.9V1142.4M1266.32 1832.7V1837.2M1378.14 1137.9V1142.4M1378.14 1832.7V1837.2M1489.95 1137.9V1142.4M1489.95 1832.7V1837.2M1601.76 1137.9V1142.4M1601.76 1832.7V1837.2M1713.58 1137.9V1142.4M1713.58 1832.7V1837.2M1825.39 1137.9V1142.4M1825.39 1832.7V1837.2" stroke="#000" stroke-width="2.2" fill="none"/>
<g font-family="'Liberation Sans', Arial, Helvetica, sans-serif" font-size="27.2" fill="#000"><text transform="translate(1084.1 1842.3) scale(0.93 1)" text-anchor="end">0.0</text><text transform="translate(1084.1 1773.27) scale(0.93 1)" text-anchor="end">0.2</text><text transform="translate(1084.1 1704.24) scale(0.93 1)" text-anchor="end">0.4</text><text transform="translate(1084.1 1635.21) scale(0.93 1)" text-anchor="end">0.6</text><text transform="translate(1084.1 1566.18) scale(0.93 1)" text-anchor="end">0.8</text><text transform="translate(1084.1 1497.15) scale(0.93 1)" text-anchor="end">1.0</text><text transform="translate(1084.1 1428.12) scale(0.93 1)" text-anchor="end">1.2</text><text transform="translate(1084.1 1359.09) scale(0.93 1)" text-anchor="end">1.4</text><text transform="translate(1084.1 1290.06) scale(0.93 1)" text-anchor="end">1.6</text><text transform="translate(1084.1 1221.03) scale(0.93 1)" text-anchor="end">1.8</text><text transform="translate(1084.1 1152) scale(0.93 1)" text-anchor="end">2.0</text></g>
<g font-family="'Liberation Sans', Arial, Helvetica, sans-serif" font-size="27.8" fill="#000"><text transform="translate(1164.71 1855.7) rotate(-45)" text-anchor="end">TMAX</text><text transform="translate(1276.52 1855.7) rotate(-45)" text-anchor="end">TMIN</text><text transform="translate(1388.34 1855.7) rotate(-45)" text-anchor="end">TMEAN</text><text transform="translate(1500.15 1855.7) rotate(-45)" text-anchor="end">QVAP</text><text transform="translate(1611.96 1855.7) rotate(-45)" text-anchor="end">PREC</text><text transform="translate(1723.78 1855.7) rotate(-45)" text-anchor="end">WSPD</text><text transform="translate(1835.59 1855.7) rotate(-45)" text-anchor="end">MSLP</text></g></g>
<text x="215.2" y="107.2" font-family="'Liberation Sans', Arial, Helvetica, sans-serif" font-size="30.5" textLength="632.0" lengthAdjust="spacingAndGlyphs">CMIP6 MMEM BIAS FOR 13<tspan font-size="18.9" dy="-7.5">°</tspan><tspan dy="7.5">W</tspan>-60<tspan font-size="18.9" dy="-7.5">°</tspan><tspan dy="7.5">E</tspan> &amp; 15<tspan font-size="18.9" dy="-7.5">°</tspan><tspan dy="7.5">N</tspan>-40<tspan font-size="18.9" dy="-7.5">°</tspan><tspan dy="7.5">N</tspan></text>
<text x="1124.2" y="108.0" font-family="'Liberation Sans', Arial, Helvetica, sans-serif" font-size="32" textLength="737.0" lengthAdjust="spacingAndGlyphs">CMIP6 MMEM <tspan font-family="'Liberation Serif', 'Times New Roman', serif" font-size="34">ρ</tspan>-SCORE FOR 13<tspan font-size="19.8" dy="-7.5">°</tspan><tspan dy="7.5">W</tspan>-60<tspan font-size="19.8" dy="-7.5">°</tspan><tspan dy="7.5">E</tspan> &amp; 15<tspan font-size="19.8" dy="-7.5">°</tspan><tspan dy="7.5">N</tspan>-40<tspan font-size="19.8" dy="-7.5">°</tspan><tspan dy="7.5">N</tspan></text>
<text x="130.2" y="1092.4" font-family="'Liberation Sans', Arial, Helvetica, sans-serif" font-size="32" textLength="740.0" lengthAdjust="spacingAndGlyphs">CMIP6 MMEM <tspan font-family="'Liberation Serif', 'Times New Roman', serif" font-size="34">η</tspan>-SCORE FOR 13<tspan font-size="19.8" dy="-7.5">°</tspan><tspan dy="7.5">W</tspan>-60<tspan font-size="19.8" dy="-7.5">°</tspan><tspan dy="7.5">E</tspan> &amp; 15<tspan font-size="19.8" dy="-7.5">°</tspan><tspan dy="7.5">N</tspan>-40<tspan font-size="19.8" dy="-7.5">°</tspan><tspan dy="7.5">N</tspan></text>
<text x="1126.2" y="1092.4" font-family="'Liberation Sans', Arial, Helvetica, sans-serif" font-size="32" textLength="741.0" lengthAdjust="spacingAndGlyphs">CMIP6 MMEM <tspan font-family="'Liberation Serif', 'Times New Roman', serif" font-size="34">α</tspan>-SCORE FOR 13<tspan font-size="19.8" dy="-7.5">°</tspan><tspan dy="7.5">W</tspan>-60<tspan font-size="19.8" dy="-7.5">°</tspan><tspan dy="7.5">E</tspan> &amp; 15<tspan font-size="19.8" dy="-7.5">°</tspan><tspan dy="7.5">N</tspan>-40<tspan font-size="19.8" dy="-7.5">°</tspan><tspan dy="7.5">N</tspan></text>
<text transform="translate(75.3 478.35) rotate(-90)" text-anchor="middle" font-family="'Liberation Sans', Arial, Helvetica, sans-serif" font-size="27" textLength="232.9" lengthAdjust="spacingAndGlyphs">CMIP6 MMEM BIAS</text>
<text transform="translate(996.5 503.25) rotate(-90)" text-anchor="middle" font-family="'Liberation Sans', Arial, Helvetica, sans-serif" font-size="28.8" textLength="381.3" lengthAdjust="spacingAndGlyphs">CMIP6 MMEM CORRELATION</text>
<text transform="translate(22.6 1486.25) rotate(-90)" text-anchor="middle" font-family="'Liberation Sans', Arial, Helvetica, sans-serif" font-size="28.8" textLength="481.3" lengthAdjust="spacingAndGlyphs">CMIP6 MMEM VARIANCE SIMILARITY</text>
<text transform="translate(1019.1 1487.85) rotate(-90)" text-anchor="middle" font-family="'Liberation Sans', Arial, Helvetica, sans-serif" font-size="28.8" textLength="615.7" lengthAdjust="spacingAndGlyphs">CMIP6 MMEM NORMALIZED ERROR VARIANCE</text>
<text x="3.0" y="32.8" font-family="'Liberation Serif', 'Times New Roman', serif" font-size="45.8">(a)</text>
<text x="976.3" y="32.8" font-family="'Liberation Serif', 'Times New Roman', serif" font-size="45.8">(b)</text>
<text x="3.0" y="1017.8" font-family="'Liberation Serif', 'Times New Roman', serif" font-size="45.8">(c)</text>
<text x="976.3" y="1017.8" font-family="'Liberation Serif', 'Times New Roman', serif" font-size="45.8">(d)</text>
<g id="legend"><path d="M769.7 219.5V157.7H899.4" fill="none" stroke="#000" stroke-width="2.8"/><path d="M769.7 219.5H899.4" fill="none" stroke="#000" stroke-width="2.8"/><line x1="785.2" y1="179.3" x2="828.4" y2="179.3" stroke="#ff0000" stroke-width="2.6"/><line x1="785.2" y1="206.6" x2="828.4" y2="206.6" stroke="#0000ff" stroke-width="2.6"/><text x="846.2" y="188.6" font-family="'Liberation Sans', Arial, Helvetica, sans-serif" font-size="26" textLength="41.5" lengthAdjust="spacingAndGlyphs">JJA</text><text x="845.0" y="215.7" font-family="'Liberation Sans', Arial, Helvetica, sans-serif" font-size="26" textLength="48" lengthAdjust="spacingAndGlyphs">DJF</text></g>
</svg></body></html>
